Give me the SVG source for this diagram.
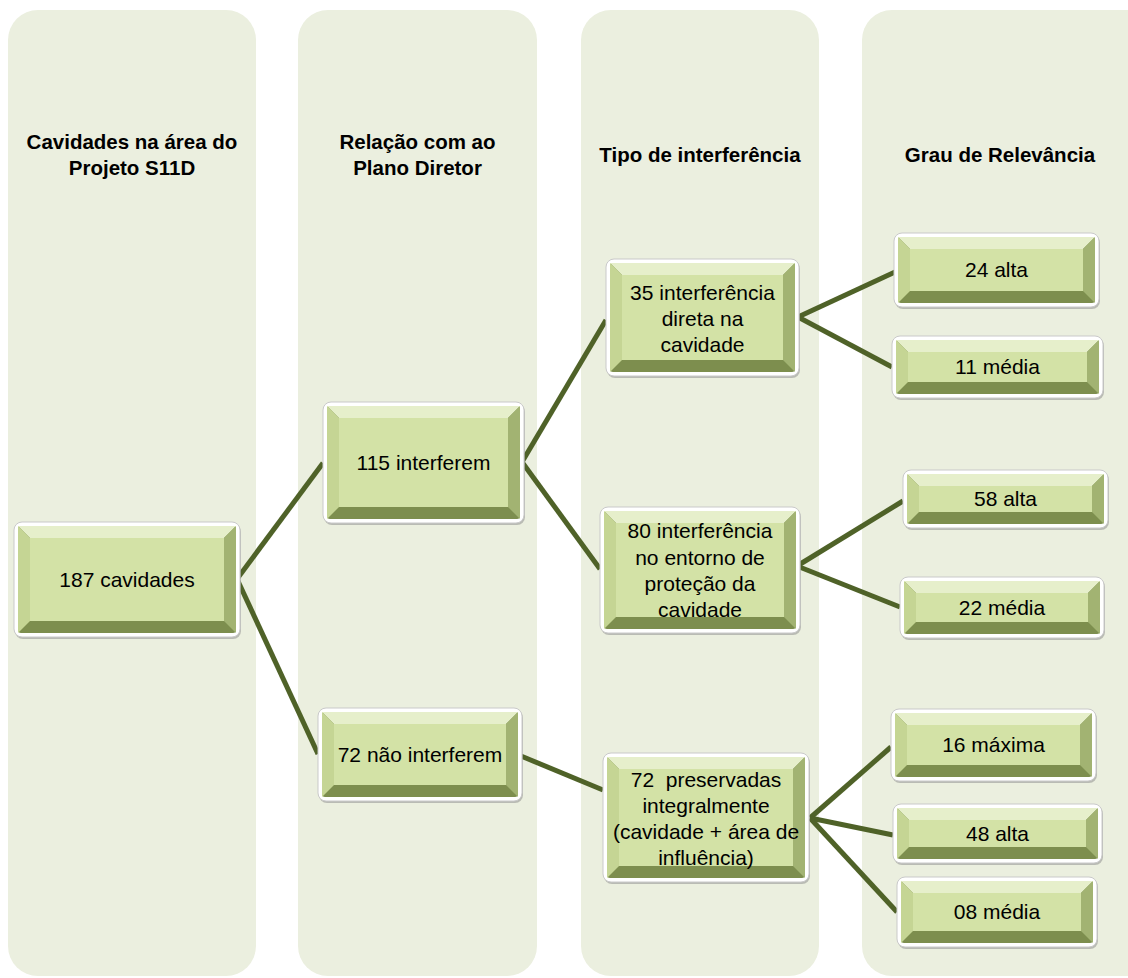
<svg xmlns="http://www.w3.org/2000/svg" width="1128" height="978" viewBox="0 0 1128 978">
<style>
.col{fill:#ebefdf}
.hd{font-family:"Liberation Sans",Arial,sans-serif;font-weight:bold;font-size:20.5px;fill:#000;text-anchor:middle}
.tx{font-family:"Liberation Sans",Arial,sans-serif;font-size:21px;fill:#000;text-anchor:middle}
.sh{fill:#8f8f8f;opacity:.55}
.fr{fill:#ffffff;stroke:#c9c9c9;stroke-width:1}
.bb{fill:#7d8e4e}
.bt{fill:#e6efcb}
.bl{fill:#c5d594}
.br{fill:#a2b372}
.fc{fill:#d3e2a6}
.cn line{stroke:#4f6228;stroke-width:5;stroke-linecap:butt}
</style>
<rect width="1128" height="978" fill="#ffffff"/>
<g id="columns">
<rect class="col" x="8" y="10" width="248" height="966" rx="30"/>
<rect class="col" x="298" y="10" width="239" height="966" rx="30"/>
<rect class="col" x="581" y="10" width="238" height="966" rx="30"/>
<rect class="col" x="862" y="10" width="300" height="966" rx="30"/>
<text class="hd" x="132" y="149">Cavidades na área do</text>
<text class="hd" x="132" y="175">Projeto S11D</text>
<text class="hd" x="417.5" y="149">Relação com ao</text>
<text class="hd" x="417.5" y="175">Plano Diretor</text>
<text class="hd" x="700" y="162">Tipo de interferência</text>
<text class="hd" x="1000" y="162">Grau de Relevância</text>
</g>
<g id="connectors" class="cn">
<line x1="237" y1="579" x2="323" y2="463"/>
<line x1="237" y1="579" x2="318" y2="754"/>
<line x1="522" y1="462" x2="606" y2="320"/>
<line x1="522" y1="462" x2="600" y2="569"/>
<line x1="521" y1="756" x2="603" y2="790"/>
<line x1="798" y1="317" x2="895" y2="272"/>
<line x1="798" y1="317" x2="892" y2="367"/>
<line x1="797" y1="566" x2="903" y2="501"/>
<line x1="797" y1="566" x2="900" y2="607"/>
<line x1="810" y1="818" x2="891" y2="747"/>
<line x1="810" y1="818" x2="893" y2="835"/>
<line x1="810" y1="818" x2="897" y2="912"/>
</g>
<g id="n187">
<rect class="sh" x="15" y="524" width="226" height="115" rx="8"/>
<rect class="fr" x="14" y="522" width="226" height="115" rx="8"/>
<rect class="bb" x="18" y="526" width="218" height="107" rx="3"/>
<polygon class="bt" points="18,526 236,526 224,538 30,538"/>
<polygon class="bl" points="18,526 30,538 30,621 18,633"/>
<polygon class="br" points="236,526 236,633 224,621 224,538"/>
<rect class="fc" x="30" y="538" width="194" height="83"/>
<text class="tx" x="127" y="587">187 cavidades</text>
</g>
<g id="n115">
<rect class="sh" x="324" y="404" width="201" height="121" rx="8"/>
<rect class="fr" x="323" y="402" width="201" height="121" rx="8"/>
<rect class="bb" x="327" y="406" width="193" height="113" rx="3"/>
<polygon class="bt" points="327,406 520,406 508,418 339,418"/>
<polygon class="bl" points="327,406 339,418 339,507 327,519"/>
<polygon class="br" points="520,406 520,519 508,507 508,418"/>
<rect class="fc" x="339" y="418" width="169" height="89"/>
<text class="tx" x="423.5" y="469.5">115 interferem</text>
</g>
<g id="n72n">
<rect class="sh" x="319" y="710" width="204" height="93" rx="8"/>
<rect class="fr" x="318" y="708" width="204" height="93" rx="8"/>
<rect class="bb" x="322" y="712" width="196" height="85" rx="3"/>
<polygon class="bt" points="322,712 518,712 506,724 334,724"/>
<polygon class="bl" points="322,712 334,724 334,785 322,797"/>
<polygon class="br" points="518,712 518,797 506,785 506,724"/>
<rect class="fc" x="334" y="724" width="172" height="61"/>
<text class="tx" x="420" y="762">72 não interferem</text>
</g>
<g id="n35">
<rect class="sh" x="607" y="261" width="193" height="117" rx="8"/>
<rect class="fr" x="606" y="259" width="193" height="117" rx="8"/>
<rect class="bb" x="610" y="263" width="185" height="109" rx="3"/>
<polygon class="bt" points="610,263 795,263 783,275 622,275"/>
<polygon class="bl" points="610,263 622,275 622,360 610,372"/>
<polygon class="br" points="795,263 795,372 783,360 783,275"/>
<rect class="fc" x="622" y="275" width="161" height="85"/>
<text class="tx" x="702.5" y="300">35 interferência</text>
<text class="tx" x="702.5" y="326">direta na</text>
<text class="tx" x="702.5" y="352">cavidade</text>
</g>
<g id="n80">
<rect class="sh" x="601" y="509" width="200" height="126" rx="8"/>
<rect class="fr" x="600" y="507" width="200" height="126" rx="8"/>
<rect class="bb" x="604" y="511" width="192" height="118" rx="3"/>
<polygon class="bt" points="604,511 796,511 784,523 616,523"/>
<polygon class="bl" points="604,511 616,523 616,617 604,629"/>
<polygon class="br" points="796,511 796,629 784,617 784,523"/>
<rect class="fc" x="616" y="523" width="168" height="94"/>
<text class="tx" x="700" y="538">80 interferência</text>
<text class="tx" x="700" y="565">no entorno de</text>
<text class="tx" x="700" y="591">proteção da</text>
<text class="tx" x="700" y="617">cavidade</text>
</g>
<g id="n72p">
<rect class="sh" x="604" y="755" width="206" height="129" rx="8"/>
<rect class="fr" x="603" y="753" width="206" height="129" rx="8"/>
<rect class="bb" x="607" y="757" width="198" height="121" rx="3"/>
<polygon class="bt" points="607,757 805,757 793,769 619,769"/>
<polygon class="bl" points="607,757 619,769 619,866 607,878"/>
<polygon class="br" points="805,757 805,878 793,866 793,769"/>
<rect class="fc" x="619" y="769" width="174" height="97"/>
<text class="tx" x="706" y="787" xml:space="preserve">72  preservadas</text>
<text class="tx" x="706" y="813">integralmente</text>
<text class="tx" x="706" y="839">(cavidade + área de</text>
<text class="tx" x="706" y="865">influência)</text>
</g>
<g id="n24">
<rect class="sh" x="895" y="235" width="205" height="74" rx="8"/>
<rect class="fr" x="894" y="233" width="205" height="74" rx="8"/>
<rect class="bb" x="898" y="237" width="197" height="66" rx="3"/>
<polygon class="bt" points="898,237 1095,237 1083,249 910,249"/>
<polygon class="bl" points="898,237 910,249 910,291 898,303"/>
<polygon class="br" points="1095,237 1095,303 1083,291 1083,249"/>
<rect class="fc" x="910" y="249" width="173" height="42"/>
<text class="tx" x="996.5" y="277">24 alta</text>
</g>
<g id="n11">
<rect class="sh" x="893" y="338" width="211" height="62" rx="8"/>
<rect class="fr" x="892" y="336" width="211" height="62" rx="8"/>
<rect class="bb" x="896" y="340" width="203" height="54" rx="3"/>
<polygon class="bt" points="896,340 1099,340 1087,352 908,352"/>
<polygon class="bl" points="896,340 908,352 908,382 896,394"/>
<polygon class="br" points="1099,340 1099,394 1087,382 1087,352"/>
<rect class="fc" x="908" y="352" width="179" height="30"/>
<text class="tx" x="997.5" y="374">11 média</text>
</g>
<g id="n58">
<rect class="sh" x="904" y="472" width="205" height="58" rx="8"/>
<rect class="fr" x="903" y="470" width="205" height="58" rx="8"/>
<rect class="bb" x="907" y="474" width="197" height="50" rx="3"/>
<polygon class="bt" points="907,474 1104,474 1092,486 919,486"/>
<polygon class="bl" points="907,474 919,486 919,512 907,524"/>
<polygon class="br" points="1104,474 1104,524 1092,512 1092,486"/>
<rect class="fc" x="919" y="486" width="173" height="26"/>
<text class="tx" x="1005.5" y="506">58 alta</text>
</g>
<g id="n22">
<rect class="sh" x="901" y="579" width="204" height="61" rx="8"/>
<rect class="fr" x="900" y="577" width="204" height="61" rx="8"/>
<rect class="bb" x="904" y="581" width="196" height="53" rx="3"/>
<polygon class="bt" points="904,581 1100,581 1088,593 916,593"/>
<polygon class="bl" points="904,581 916,593 916,622 904,634"/>
<polygon class="br" points="1100,581 1100,634 1088,622 1088,593"/>
<rect class="fc" x="916" y="593" width="172" height="29"/>
<text class="tx" x="1002" y="614.5">22 média</text>
</g>
<g id="n16">
<rect class="sh" x="892" y="711" width="205" height="72" rx="8"/>
<rect class="fr" x="891" y="709" width="205" height="72" rx="8"/>
<rect class="bb" x="895" y="713" width="197" height="64" rx="3"/>
<polygon class="bt" points="895,713 1092,713 1080,725 907,725"/>
<polygon class="bl" points="895,713 907,725 907,765 895,777"/>
<polygon class="br" points="1092,713 1092,777 1080,765 1080,725"/>
<rect class="fc" x="907" y="725" width="173" height="40"/>
<text class="tx" x="993.5" y="752">16 máxima</text>
</g>
<g id="n48">
<rect class="sh" x="894" y="806" width="209" height="59" rx="8"/>
<rect class="fr" x="893" y="804" width="209" height="59" rx="8"/>
<rect class="bb" x="897" y="808" width="201" height="51" rx="3"/>
<polygon class="bt" points="897,808 1098,808 1086,820 909,820"/>
<polygon class="bl" points="897,808 909,820 909,847 897,859"/>
<polygon class="br" points="1098,808 1098,859 1086,847 1086,820"/>
<rect class="fc" x="909" y="820" width="177" height="27"/>
<text class="tx" x="997.5" y="840.5">48 alta</text>
</g>
<g id="n08">
<rect class="sh" x="898" y="879" width="200" height="70" rx="8"/>
<rect class="fr" x="897" y="877" width="200" height="70" rx="8"/>
<rect class="bb" x="901" y="881" width="192" height="62" rx="3"/>
<polygon class="bt" points="901,881 1093,881 1081,893 913,893"/>
<polygon class="bl" points="901,881 913,893 913,931 901,943"/>
<polygon class="br" points="1093,881 1093,943 1081,931 1081,893"/>
<rect class="fc" x="913" y="893" width="168" height="38"/>
<text class="tx" x="997" y="919">08 média</text>
</g>
</svg>
